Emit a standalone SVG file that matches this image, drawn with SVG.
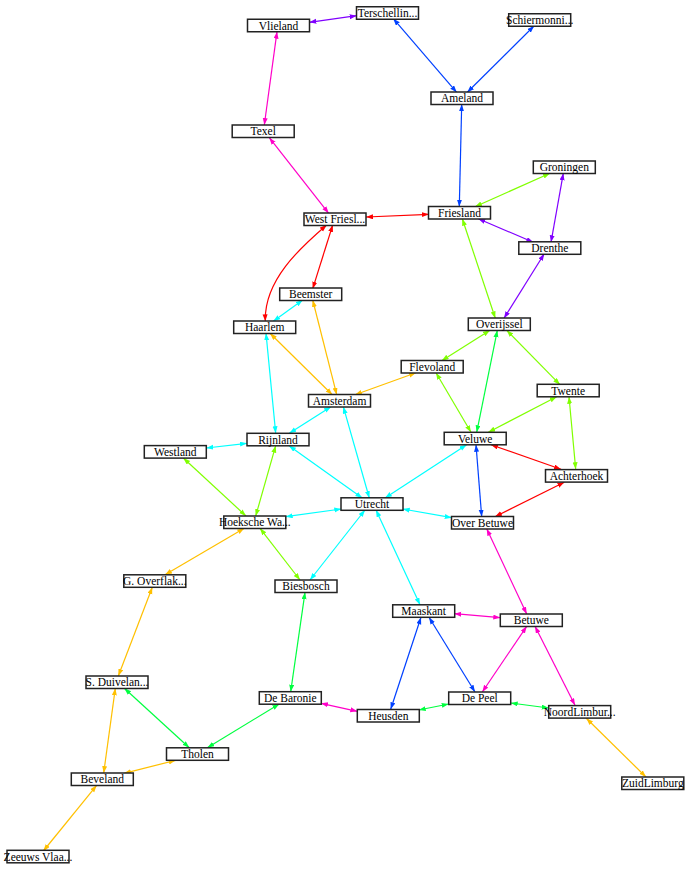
<svg xmlns="http://www.w3.org/2000/svg" width="691" height="869" viewBox="0 0 691 869">
<style>
.n rect{fill:#fff;stroke:#222;stroke-width:1.5}
.n text{font-family:"Liberation Serif","Times New Roman",serif;font-size:11.5px;text-anchor:middle;fill:#000}
.e path{fill:none;stroke-width:1.2}
.pu{stroke:#8000ff;marker-start:url(#mpu);marker-end:url(#mpu)}
.bl{stroke:#0040ff;marker-start:url(#mbl);marker-end:url(#mbl)}
.ma{stroke:#ff00c8;marker-start:url(#mma);marker-end:url(#mma)}
.re{stroke:#ff0000;marker-start:url(#mre);marker-end:url(#mre)}
.ch{stroke:#80ff00;marker-start:url(#mch);marker-end:url(#mch)}
.cy{stroke:#00ffff;marker-start:url(#mcy);marker-end:url(#mcy)}
.or{stroke:#ffc000;marker-start:url(#mor);marker-end:url(#mor)}
.gr{stroke:#00ff40;marker-start:url(#mgr);marker-end:url(#mgr)}
</style>
<defs>
<marker id="mpu" markerUnits="userSpaceOnUse" markerWidth="8" markerHeight="6" refX="7" refY="2.5" orient="auto-start-reverse"><path d="M0,0L7,2.5L0,5z" fill="#8000ff"/></marker>
<marker id="mbl" markerUnits="userSpaceOnUse" markerWidth="8" markerHeight="6" refX="7" refY="2.5" orient="auto-start-reverse"><path d="M0,0L7,2.5L0,5z" fill="#0040ff"/></marker>
<marker id="mma" markerUnits="userSpaceOnUse" markerWidth="8" markerHeight="6" refX="7" refY="2.5" orient="auto-start-reverse"><path d="M0,0L7,2.5L0,5z" fill="#ff00c8"/></marker>
<marker id="mre" markerUnits="userSpaceOnUse" markerWidth="8" markerHeight="6" refX="7" refY="2.5" orient="auto-start-reverse"><path d="M0,0L7,2.5L0,5z" fill="#ff0000"/></marker>
<marker id="mch" markerUnits="userSpaceOnUse" markerWidth="8" markerHeight="6" refX="7" refY="2.5" orient="auto-start-reverse"><path d="M0,0L7,2.5L0,5z" fill="#80ff00"/></marker>
<marker id="mcy" markerUnits="userSpaceOnUse" markerWidth="8" markerHeight="6" refX="7" refY="2.5" orient="auto-start-reverse"><path d="M0,0L7,2.5L0,5z" fill="#00ffff"/></marker>
<marker id="mor" markerUnits="userSpaceOnUse" markerWidth="8" markerHeight="6" refX="7" refY="2.5" orient="auto-start-reverse"><path d="M0,0L7,2.5L0,5z" fill="#ffc000"/></marker>
<marker id="mgr" markerUnits="userSpaceOnUse" markerWidth="8" markerHeight="6" refX="7" refY="2.5" orient="auto-start-reverse"><path d="M0,0L7,2.5L0,5z" fill="#00ff40"/></marker>
</defs>
<rect width="691" height="869" fill="#fff"/>
<g id="connectors" class="e">
<path class="pu" d="M309.3,22.3L356.7,15.7"/>
<path class="bl" d="M393.3,18.7L456.7,92.3"/>
<path class="bl" d="M534,26L467.3,92.3"/>
<path class="ma" d="M277,31.7L264.3,125"/>
<path class="bl" d="M461.7,104.3L459.3,206.7"/>
<path class="ma" d="M269.3,137.7L328.7,213.3"/>
<path class="ch" d="M550,173.3L475,206.7"/>
<path class="pu" d="M563.3,173.3L551,242.3"/>
<path class="pu" d="M478.3,218.7L533.3,242.3"/>
<path class="re" d="M366,217L429,214.3"/>
<path class="re" d="M326.7,225C300,248 264,280 265.3,321.3"/>
<path class="re" d="M332.7,225L312.7,288.7"/>
<path class="ch" d="M462.3,218.7L495.3,318.3"/>
<path class="pu" d="M544.3,253.7L504,318.3"/>
<path class="cy" d="M302.7,300L273.3,321.3"/>
<path class="or" d="M312.7,300L336.7,394.7"/>
<path class="or" d="M270,333.3L332.3,394.7"/>
<path class="cy" d="M266,333.3L275.7,433.3"/>
<path class="ch" d="M490,330.3L441.7,360.7"/>
<path class="gr" d="M497.3,330.3L476.7,432.3"/>
<path class="ch" d="M506.7,330.3L560,384.7"/>
<path class="or" d="M416,372.7L355,394.7"/>
<path class="ch" d="M436,372.7L471,432.3"/>
<path class="ch" d="M556.7,396.7L488.3,432.3"/>
<path class="ch" d="M569,396.7L575.7,469.3"/>
<path class="cy" d="M331,406.7L289.3,433.3"/>
<path class="cy" d="M343.3,406.7L369.3,498"/>
<path class="cy" d="M247,443.3L206.3,448"/>
<path class="ch" d="M275.7,445.7L255.7,516"/>
<path class="cy" d="M289,445.7L362.3,498"/>
<path class="ch" d="M183.3,458L246,516"/>
<path class="cy" d="M466.7,444.7L385,498"/>
<path class="bl" d="M476,444.7L481.7,516.7"/>
<path class="re" d="M491,444.7L561,469.3"/>
<path class="re" d="M564.3,482.3L495,516.7"/>
<path class="cy" d="M341.3,509L285.7,516.7"/>
<path class="cy" d="M402.7,509L451.7,517.7"/>
<path class="cy" d="M365,510L310,580"/>
<path class="cy" d="M376,510L420,604.7"/>
<path class="or" d="M244.3,528.3L165,574.7"/>
<path class="ch" d="M260,528.3L300,580"/>
<path class="ma" d="M486.7,528.7L526.7,614"/>
<path class="or" d="M152.3,587.3L118.3,676"/>
<path class="gr" d="M305,592.3L290.7,691.7"/>
<path class="ma" d="M454.3,613.7L500.3,617.7"/>
<path class="bl" d="M421,617.3L390.7,709.3"/>
<path class="bl" d="M429,617.3L475,692"/>
<path class="ma" d="M526.7,626.3L482.3,692"/>
<path class="ma" d="M535,626.3L575,705.3"/>
<path class="gr" d="M124.3,688.3L189.3,747.7"/>
<path class="or" d="M115.3,688.3L103.7,773"/>
<path class="gr" d="M279.3,704L207.3,747.7"/>
<path class="ma" d="M321,703.3L357.3,711.3"/>
<path class="gr" d="M418.7,710L448.7,704"/>
<path class="gr" d="M510.7,703L548.7,708"/>
<path class="or" d="M175.7,760.3L124,773.3"/>
<path class="or" d="M96.7,785.3L43.3,851"/>
<path class="or" d="M586.3,718.3L646,777"/>
</g>
<g id="Vlieland" class="n"><rect x="247.5" y="19.25" width="62" height="12.5"/><text x="278.5" y="29.5">Vlieland</text></g>
<g id="Terschelling" class="n"><rect x="356.5" y="6.75" width="62" height="12.5"/><text x="387.5" y="17">Terschellin...</text></g>
<g id="Schiermonnikoog" class="n"><rect x="508.7" y="13.75" width="62" height="12.5"/><text x="539.7" y="24">Schiermonni...</text></g>
<g id="Ameland" class="n"><rect x="431" y="92" width="62" height="12.5"/><text x="462" y="102.3">Ameland</text></g>
<g id="Texel" class="n"><rect x="232.2" y="125" width="62" height="12.5"/><text x="263.2" y="135.3">Texel</text></g>
<g id="Groningen" class="n"><rect x="533.3" y="161" width="62" height="12.5"/><text x="564.3" y="171.3">Groningen</text></g>
<g id="WestFriesland" class="n"><rect x="304" y="213" width="62" height="12.5"/><text x="335" y="223.3">West Friesl...</text></g>
<g id="Friesland" class="n"><rect x="428.5" y="206.5" width="62" height="12.5"/><text x="459.5" y="216.8">Friesland</text></g>
<g id="Drenthe" class="n"><rect x="518.8" y="241.8" width="62" height="12.5"/><text x="549.8" y="252.1">Drenthe</text></g>
<g id="Beemster" class="n"><rect x="279.7" y="288" width="62" height="12.5"/><text x="310.7" y="298.3">Beemster</text></g>
<g id="Haarlem" class="n"><rect x="233.7" y="321" width="62" height="12.5"/><text x="264.7" y="331.3">Haarlem</text></g>
<g id="Overijssel" class="n"><rect x="468.3" y="318" width="62" height="12.5"/><text x="499.3" y="328.3">Overijssel</text></g>
<g id="Flevoland" class="n"><rect x="401.2" y="360.5" width="62" height="12.5"/><text x="432.2" y="370.8">Flevoland</text></g>
<g id="Twente" class="n"><rect x="537.2" y="384.3" width="62" height="12.5"/><text x="568.2" y="394.6">Twente</text></g>
<g id="Amsterdam" class="n"><rect x="308.5" y="394.5" width="62" height="12.5"/><text x="339.5" y="404.8">Amsterdam</text></g>
<g id="Rijnland" class="n"><rect x="247" y="433.3" width="62" height="12.5"/><text x="278" y="443.6">Rijnland</text></g>
<g id="Westland" class="n"><rect x="144.3" y="445.6" width="62" height="12.5"/><text x="175.3" y="455.9">Westland</text></g>
<g id="Veluwe" class="n"><rect x="444.2" y="432.3" width="62" height="12.5"/><text x="475.2" y="442.6">Veluwe</text></g>
<g id="Achterhoek" class="n"><rect x="545.5" y="469.6" width="62" height="12.5"/><text x="576.5" y="479.9">Achterhoek</text></g>
<g id="Utrecht" class="n"><rect x="341" y="497.8" width="62" height="12.5"/><text x="372" y="508.1">Utrecht</text></g>
<g id="HoekscheWaard" class="n"><rect x="223.8" y="516" width="62" height="12.5"/><text x="254.8" y="526.3">Hoeksche Wa...</text></g>
<g id="OverBetuwe" class="n"><rect x="451.5" y="516.5" width="62" height="12.5"/><text x="482.5" y="526.8">Over Betuwe</text></g>
<g id="GOverflakkee" class="n"><rect x="123.8" y="574.8" width="62" height="12.5"/><text x="154.8" y="585.1">G. Overflak...</text></g>
<g id="Biesbosch" class="n"><rect x="275" y="580" width="62" height="12.5"/><text x="306" y="590.3">Biesbosch</text></g>
<g id="Maaskant" class="n"><rect x="392.7" y="604.8" width="62" height="12.5"/><text x="423.7" y="615.1">Maaskant</text></g>
<g id="Betuwe" class="n"><rect x="500.3" y="614" width="62" height="12.5"/><text x="531.3" y="624.3">Betuwe</text></g>
<g id="SDuiveland" class="n"><rect x="86" y="676" width="62" height="12.5"/><text x="117" y="686.3">S. Duivelan...</text></g>
<g id="DeBaronie" class="n"><rect x="259.3" y="691.7" width="62" height="12.5"/><text x="290.3" y="702">De Baronie</text></g>
<g id="Heusden" class="n"><rect x="357.3" y="709.5" width="62" height="12.5"/><text x="388.3" y="719.8">Heusden</text></g>
<g id="DePeel" class="n"><rect x="448.7" y="692" width="62" height="12.5"/><text x="479.7" y="702.3">De Peel</text></g>
<g id="NoordLimburg" class="n"><rect x="548.7" y="705.6" width="62" height="12.5"/><text x="579.7" y="715.9">NoordLimbur...</text></g>
<g id="Tholen" class="n"><rect x="166.5" y="747.8" width="62" height="12.5"/><text x="197.5" y="758.1">Tholen</text></g>
<g id="Beveland" class="n"><rect x="71.3" y="773" width="62" height="12.5"/><text x="102.3" y="783.3">Beveland</text></g>
<g id="ZeeuwsVlaanderen" class="n"><rect x="7" y="850.3" width="62" height="12.5"/><text x="38" y="860.6">Zeeuws Vlaa...</text></g>
<g id="ZuidLimburg" class="n"><rect x="621.8" y="777" width="62" height="12.5"/><text x="652.8" y="787.3">ZuidLimburg</text></g>
</svg>
